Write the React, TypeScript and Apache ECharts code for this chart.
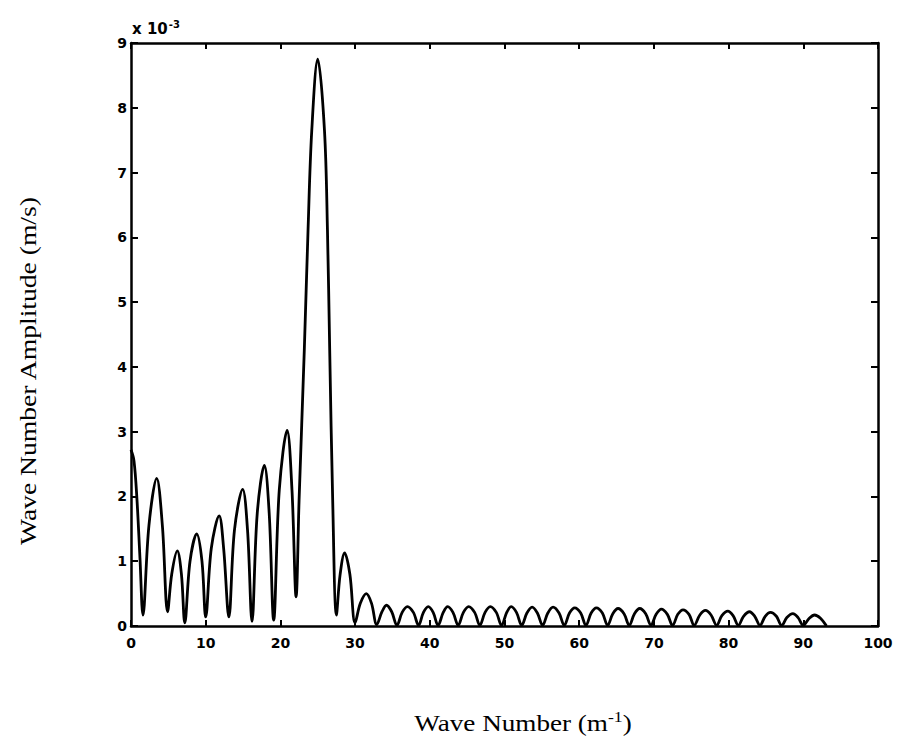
import React, { useEffect, useRef } from "react";
import * as echarts from "echarts";

// Wave number (1/m) and amplitude (x 10^-3 m/s)
const waveNumber = [
  0, 0.4, 0.8, 1.2, 1.6, 2.4, 3.44, 4.2, 4.9, 5.45, 6.2, 6.75, 7.2, 7.9, 8.8, 9.5, 10.0,
  10.75, 11.8, 12.4, 13.1, 13.85, 14.95, 15.6, 16.2, 16.9, 17.85, 18.5, 19.1, 19.85, 20.9,
  21.55, 22.1, 22.5, 23.2, 23.7, 24.2, 25.0, 25.9, 26.3, 26.6, 27.0, 27.5, 28.0, 28.6, 29.3,
  30.0, 30.7, 31.5, 32.2, 32.9,
  33.6, 34.2, 34.9, 35.6,
  36.3, 37.0, 37.8, 38.5,
  39.15, 39.8, 40.45, 41.1,
  41.8, 42.4, 43.1, 43.8,
  44.5, 45.2, 46.0, 46.7,
  47.4, 48.1, 48.9, 49.6,
  50.3, 50.9, 51.6, 52.3,
  53.0, 53.7, 54.4, 55.1,
  55.8, 56.5, 57.3, 58.0,
  58.7, 59.4, 60.2, 60.9,
  61.6, 62.3, 63.1, 63.8,
  64.5, 65.2, 66.0, 66.7,
  67.4, 68.1, 68.9, 69.6,
  70.3, 71.0, 71.8, 72.5,
  73.2, 73.9, 74.7, 75.4,
  76.15, 76.9, 77.65, 78.4,
  79.1, 79.9, 80.6, 81.3,
  82.0, 82.8, 83.5, 84.2,
  84.9, 85.6, 86.4, 87.1,
  87.8, 88.6, 89.3, 90.0,
  90.8, 91.5, 92.3, 93.1,
];
const amplitude = [
  2.72, 2.55, 1.95, 1.05, 0.17, 1.55, 2.28, 1.55, 0.22, 0.8, 1.16, 0.8, 0.05, 1.0, 1.42, 1.0, 0.14,
  1.2, 1.7, 1.2, 0.14, 1.48, 2.11, 1.48, 0.07, 1.74, 2.48, 1.74, 0.09, 2.1, 3.02,
  2.1, 0.45, 1.94, 4.26, 6.11, 7.65, 8.75, 7.65, 6.11, 4.26, 1.94, 0.17, 0.8, 1.13, 0.8,
  0.05, 0.35, 0.5, 0.35, 0.02,
  0.22, 0.32, 0.22, 0.01,
  0.21, 0.3, 0.21, 0.01,
  0.21, 0.3, 0.21, 0.01,
  0.21, 0.3, 0.21, 0.01,
  0.21, 0.3, 0.21, 0.01,
  0.21, 0.3, 0.21, 0.01,
  0.21, 0.3, 0.21, 0.01,
  0.2, 0.29, 0.2, 0.01,
  0.2, 0.29, 0.2, 0.01,
  0.2, 0.28, 0.2, 0.01,
  0.2, 0.28, 0.2, 0.01,
  0.19, 0.27, 0.19, 0.01,
  0.19, 0.27, 0.19, 0.01,
  0.18, 0.26, 0.18, 0.01,
  0.18, 0.25, 0.18, 0.01,
  0.17, 0.24, 0.17, 0.01,
  0.16, 0.23, 0.16, 0.01,
  0.15, 0.22, 0.15, 0.01,
  0.15, 0.21, 0.15, 0.01,
  0.13, 0.19, 0.13, 0.01,
  0.12, 0.17, 0.12, 0.0,
];

const xTitle = "Wave Number (m";
const yTitle = "Wave Number Amplitude (m/s)";

export default function App() {
  const ref = useRef<HTMLDivElement>(null);
  useEffect(() => {
    if (!ref.current) return;
    const chart = echarts.init(ref.current, null, { renderer: "svg" });
    const tickFont = {
      color: "#000",
      fontFamily: "DejaVu Sans",
      fontWeight: "bold" as const,
      fontSize: 14,
    };
    const lineStyle = { color: "#000", width: 2.5 };
    const tick = { show: true, inside: true, length: 6, lineStyle: { color: "#000", width: 2 } };
    chart.setOption({
      animation: false,
      backgroundColor: "#fff",
      grid: { left: 131, right: 20, top: 43, bottom: 125, containLabel: false },
      xAxis: [
        {
          type: "value",
          min: 0,
          max: 100,
          interval: 10,
          position: "bottom",
          axisLine: { show: true, onZero: false, lineStyle },
          axisTick: tick,
          axisLabel: { ...tickFont, margin: 10 },
          splitLine: { show: false },
        },
        {
          type: "value",
          min: 0,
          max: 100,
          interval: 10,
          position: "top",
          axisLine: { show: true, onZero: false, lineStyle },
          axisTick: tick,
          axisLabel: { show: false },
          splitLine: { show: false },
        },
      ],
      yAxis: [
        {
          type: "value",
          min: 0,
          max: 9,
          interval: 1,
          position: "left",
          axisLine: { show: true, onZero: false, lineStyle },
          axisTick: { ...tick, length: 7 },
          axisLabel: { ...tickFont, margin: 4 },
          splitLine: { show: false },
        },
        {
          type: "value",
          min: 0,
          max: 9,
          interval: 1,
          position: "right",
          axisLine: { show: true, onZero: false, lineStyle },
          axisTick: { ...tick, length: 7 },
          axisLabel: { show: false },
          splitLine: { show: false },
        },
      ],
      series: [
        {
          type: "line",
          xAxisIndex: 0,
          yAxisIndex: 0,
          data: waveNumber.map((x, i) => [x, amplitude[i]]),
          showSymbol: false,
          smooth: 0.35,
          lineStyle: { color: "#000", width: 2.8 },
        },
      ],
      graphic: [
        {
          type: "text",
          left: 132,
          top: 19,
          style: {
            text: "{a|x 10}{b|-3}",
            rich: {
              a: { fontFamily: "DejaVu Sans", fontWeight: "bold", fontSize: 15, fill: "#000" },
              b: {
                fontFamily: "DejaVu Sans",
                fontWeight: "bold",
                fontSize: 10,
                fill: "#000",
                verticalAlign: "top",
                padding: [0, 0, 9, 1],
              },
            },
          },
        },
        {
          type: "text",
          x: 523,
          y: 723,
          scaleX: 1.18,
          style: {
            text: "{a|" + xTitle + "}{b|-1}{a|)}",
            align: "center",
            verticalAlign: "middle",
            rich: {
              a: { fontFamily: "Liberation Serif", fontSize: 23, fill: "#000" },
              b: {
                fontFamily: "Liberation Serif",
                fontSize: 15,
                fill: "#000",
                padding: [0, 0, 12, 0],
              },
            },
          },
        },
        {
          type: "text",
          x: 28,
          y: 371,
          rotation: Math.PI / 2,
          scaleX: 1.2,
          style: {
            text: yTitle,
            fontFamily: "Liberation Serif",
            fontSize: 23,
            fill: "#000",
            align: "center",
            verticalAlign: "middle",
          },
        },
      ],
    });
    return () => chart.dispose();
  }, []);
  return (
    <div
      ref={ref}
      style={{ position: "fixed", left: 0, top: 0, width: 898, height: 751, background: "#fff" }}
    />
  );
}
